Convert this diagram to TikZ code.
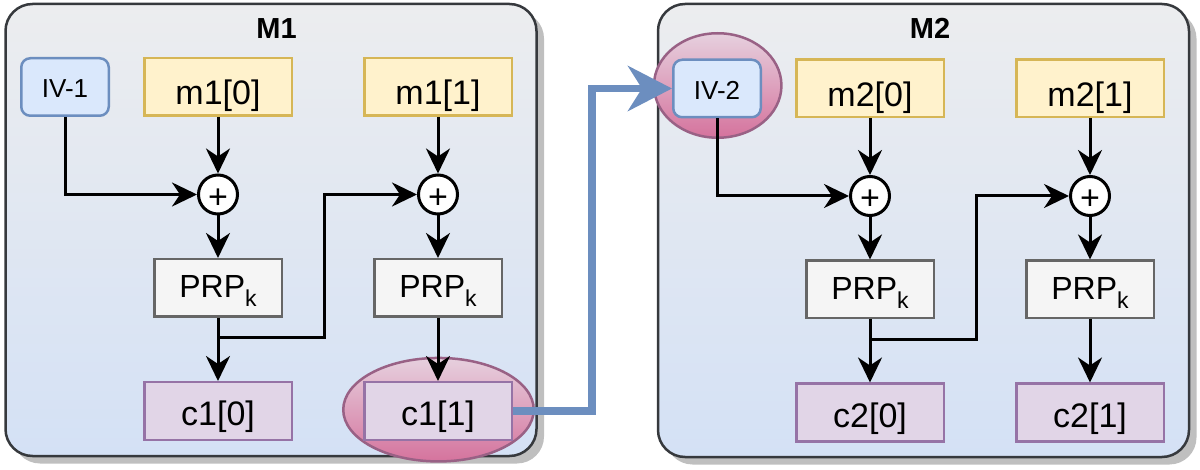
\documentclass[tikz,border=0pt]{standalone}
\usepackage{fontspec}
\setmainfont{Liberation Sans}
\usepackage{xcolor}
\usepackage{tikz}
\usetikzlibrary{arrows.meta, shadows}

\definecolor{ivfill}{HTML}{DAE8FC}
\definecolor{ivline}{HTML}{6C8EBF}
\definecolor{mfill}{HTML}{FFF2CC}
\definecolor{mline}{HTML}{D6B656}
\definecolor{pfill}{HTML}{F5F5F5}
\definecolor{pline}{HTML}{666666}
\definecolor{cfill}{HTML}{E1D5E7}
\definecolor{cline}{HTML}{9673A6}
\definecolor{hltop}{HTML}{E6D0DE}
\definecolor{hlbot}{HTML}{D5739D}
\definecolor{hlline}{HTML}{996185}
\definecolor{modtop}{HTML}{ECEDEF}
\definecolor{modbot}{HTML}{D4E1F5}
\definecolor{modline}{HTML}{36393D}

\newcommand{\prpk}{PRP\raisebox{-9pt}{\fontsize{23}{23}\selectfont k}}

\tikzstyle{module} = [draw=modline, line width=2.5pt, rounded corners=27pt, top color=modtop, bottom color=modbot, drop shadow={shadow xshift=7.5pt, shadow yshift=-7.5pt, fill=black!25, opacity=1}]
\tikzstyle{modtitle} = [anchor=base, font=\bfseries\fontsize{29}{29}\selectfont]
\tikzstyle{hilite} = [draw=hlline, line width=2.5pt, top color=hltop, bottom color=hlbot]
\tikzstyle{ivbox} = [draw=ivline, fill=ivfill, line width=2.5pt, rounded corners=9pt, minimum width=87.5pt, minimum height=57.5pt, inner sep=0pt, text height=22pt, text depth=0pt, font=\fontsize{26}{26}\selectfont]
\tikzstyle{mbox} = [draw=mline, fill=mfill, line width=2.5pt, minimum width=147.5pt, minimum height=57.5pt, inner sep=0pt, text height=36pt, text depth=0pt, font=\fontsize{34}{34}\selectfont]
\tikzstyle{prpbox} = [draw=pline, fill=pfill, line width=2.5pt, minimum width=127.5pt, minimum height=57.5pt, inner sep=0pt, text height=20pt, text depth=0pt, font=\fontsize{32}{32}\selectfont]
\tikzstyle{cbox} = [draw=cline, fill=cfill, line width=2.5pt, minimum width=147.5pt, minimum height=57.5pt, inner sep=0pt, text height=29pt, text depth=0pt, font=\fontsize{34}{34}\selectfont]
\tikzstyle{xorop} = [circle, draw=black, fill=white, line width=3pt, minimum size=39pt, inner sep=0pt, text height=28pt, text depth=0pt, font=\fontsize{34}{34}\selectfont]
\tikzstyle{arrow} = [line width=3pt, -{Stealth[length=25pt, width=24pt, inset=8pt]}]
\tikzstyle{bigarrow} = [draw=ivline, line width=7.5pt, -{Stealth[length=44pt, width=45pt, inset=14pt]}]

\begin{document}
\begin{tikzpicture}[x=1pt,y=-1pt]
    \useasboundingbox (0,0) rectangle (1200,470);
    % modules
    \path[module] (5.5,4) rectangle (536.5,456);
    \path[module] (658,4) rectangle (1189,457);
    \node[modtitle] (t1) at (276.5,39) {M1};
    \node[modtitle] (t2) at (930,39) {M2};
    % highlighted blocks
    \path[hilite] (438.5,409.7) ellipse [x radius=95.25pt, y radius=51.75pt];
    \path[hilite] (717.7,85.5) ellipse [x radius=63.75pt, y radius=52.25pt];
    % M1
    \node[ivbox] (iv1) at (65,87) {IV-1};
    \node[mbox] (m10) at (218,87) {m1[0]};
    \node[mbox] (m11) at (438,87) {m1[1]};
    \node[xorop] (x10) at (218,194.5) {+};
    \node[xorop] (x11) at (438,194.5) {+};
    \node[prpbox] (p10) at (218,288) {\prpk};
    \node[prpbox] (p11) at (438,288) {\prpk};
    \node[cbox] (c10) at (218,411) {c1[0]};
    \node[cbox] (c11) at (438,411) {c1[1]};
    % M2
    \node[ivbox] (iv2) at (717,88.5) {IV-2};
    \node[mbox] (m20) at (870,88.5) {m2[0]};
    \node[mbox] (m21) at (1090,88.5) {m2[1]};
    \node[xorop] (x20) at (870,196) {+};
    \node[xorop] (x21) at (1090,196) {+};
    \node[prpbox] (p20) at (870,289.5) {\prpk};
    \node[prpbox] (p21) at (1090,289.5) {\prpk};
    \node[cbox] (c20) at (870,412.5) {c2[0]};
    \node[cbox] (c21) at (1090,412.5) {c2[1]};
    % M1 connectors
    \draw[arrow] (iv1.south) |- (x10.west);
    \draw[arrow] (m10) -- (x10);
    \draw[arrow] (x10) -- (p10);
    \draw[arrow] (p10) -- (c10);
    \draw[arrow] ([yshift=-20pt]p10.south) -- ++(106,0) |- (x11.west);
    \draw[arrow] (m11) -- (x11);
    \draw[arrow] (x11) -- (p11);
    \draw[arrow] (p11) -- (c11);
    % M2 connectors
    \draw[arrow] (iv2.south) |- (x20.west);
    \draw[arrow] (m20) -- (x20);
    \draw[arrow] (x20) -- (p20);
    \draw[arrow] (p20) -- (c20);
    \draw[arrow] ([yshift=-20pt]p20.south) -- ++(106,0) |- (x21.west);
    \draw[arrow] (m21) -- (x21);
    \draw[arrow] (x21) -- (p21);
    \draw[arrow] (p21) -- (c21);
    % chaining
    \draw[bigarrow] (c11.east) -| ([xshift=-80pt]iv2.west) -- (iv2.west);
\end{tikzpicture}
\end{document}
